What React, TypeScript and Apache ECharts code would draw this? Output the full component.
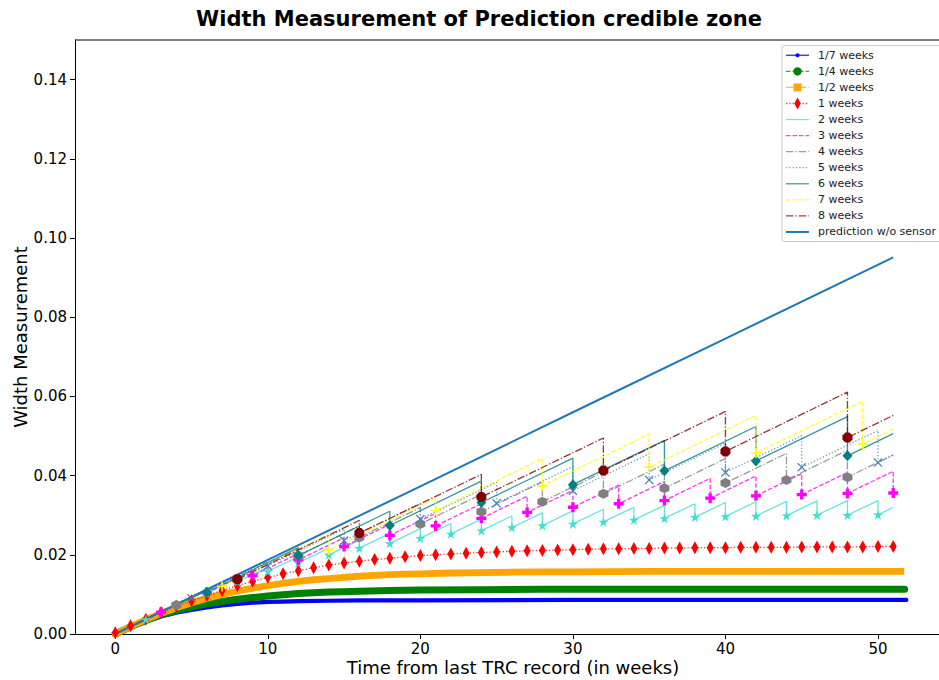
import React, { useEffect, useRef } from "react";
import * as echarts from "echarts";

const chartTitle = "Width Measurement of Prediction credible zone";
const xAxisTitle = "Time from last TRC record (in weeks)";
const yAxisTitle = "Width Measurement";
const xTicks = [0, 10, 20, 30, 40, 50];
const yTicks = [0, 0.02, 0.04, 0.06, 0.08, 0.1, 0.12, 0.14];

const legendLabels = [
  "1/7 weeks", "1/4 weeks", "1/2 weeks", "1 weeks", "2 weeks", "3 weeks",
  "4 weeks", "5 weeks", "6 weeks", "7 weeks", "8 weeks", "prediction w/o sensor",
];

const lastWeek = 51;

// prediction without sensor
const predictionWeeks = [0, 10, 20, 30, 40, 51];
const predictionValues = [0, 0.0187, 0.0373, 0.056, 0.0746, 0.0951];

// 1/7 weeks (dense daily markers -> band)
const seventhWeeks = [0, 1, 2, 3, 4, 5, 6, 7, 8, 9, 10, 11, 12, 14, 16, 20, 30, 40, 51.86];
const seventhValues = [0, 0.0017, 0.0032, 0.0044, 0.0054, 0.0061, 0.0067, 0.0072, 0.0076, 0.0079, 0.0081, 0.0082, 0.0083, 0.0084, 0.0085, 0.0085, 0.0086, 0.0086, 0.0086];

// 1/4 weeks
const quarterWeeks = [0, 1, 2, 3, 4, 5, 6, 7, 8, 9, 10, 11, 12, 13, 14, 15, 16, 18, 20, 24, 28, 35, 45, 51.75];
const quarterValues = [0, 0.0018, 0.0034, 0.0048, 0.0059, 0.0068, 0.0076, 0.0082, 0.0088, 0.0092, 0.0096, 0.0099, 0.0102, 0.0104, 0.0106, 0.0107, 0.0108, 0.011, 0.0111, 0.0112, 0.0113, 0.0113, 0.0113, 0.0113];

// 1/2 weeks
const halfWeeks = [0, 1, 2, 3, 4, 5, 6, 7, 8, 9, 10, 11, 12, 13, 14, 15, 16, 17, 18, 19, 20, 22, 24, 26, 28, 30, 35, 40, 45, 51.5];
const halfValues = [0, 0.0019, 0.0036, 0.0052, 0.0066, 0.0079, 0.009, 0.01, 0.0108, 0.0116, 0.0122, 0.0128, 0.0133, 0.0137, 0.014, 0.0143, 0.0146, 0.0148, 0.015, 0.0151, 0.0152, 0.0154, 0.0155, 0.0156, 0.0157, 0.0157, 0.0158, 0.0158, 0.0158, 0.0158];

// 1 week (one value per week, weeks 0..51)
const oneWeekValues = [
  0.0003, 0.0021, 0.0037, 0.0054, 0.007, 0.0084, 0.0097, 0.011, 0.0122, 0.0133,
  0.0143, 0.0152, 0.016, 0.0167, 0.0174, 0.0179, 0.0184, 0.0188, 0.0191, 0.0195,
  0.0198, 0.02, 0.0202, 0.0204, 0.0206, 0.0207, 0.0209, 0.021, 0.0211, 0.0212,
  0.0213, 0.0214, 0.0215, 0.0215, 0.0216, 0.0216, 0.0217, 0.0217, 0.0218, 0.0218,
  0.0218, 0.0219, 0.0219, 0.0219, 0.0219, 0.022, 0.022, 0.022, 0.022, 0.022,
  0.0221, 0.0221,
];

// sawtooth series: value just before each update (peak) and just after (min)
const saw2Peaks = [0.0037, 0.0074, 0.0109, 0.014, 0.0169, 0.0195, 0.0217, 0.0237, 0.0254, 0.0266, 0.0279, 0.029, 0.0298, 0.0306, 0.0311, 0.0315, 0.032, 0.0325, 0.0329, 0.0332, 0.0334, 0.0335, 0.0336, 0.0337, 0.0337];
const saw2Mins = [0.0037, 0.0072, 0.0103, 0.0132, 0.0158, 0.018, 0.02, 0.0217, 0.0229, 0.0242, 0.0253, 0.0261, 0.0269, 0.0274, 0.0278, 0.0283, 0.0288, 0.0292, 0.0295, 0.0297, 0.0298, 0.0299, 0.03, 0.03, 0.0301];
const saw2End = 0.032;

const saw3Peaks = [0.0056, 0.0111, 0.016, 0.0203, 0.0243, 0.0277, 0.0305, 0.0329, 0.0348, 0.0363, 0.0376, 0.0385, 0.0393, 0.0399, 0.0405, 0.0408, 0.0411];
const saw3Mins = [0.0055, 0.0104, 0.0147, 0.0187, 0.0221, 0.0249, 0.0273, 0.0292, 0.0307, 0.032, 0.0329, 0.0337, 0.0343, 0.0349, 0.0352, 0.0355, 0.0356];
const saw3End = 0.0356;

const saw4Peaks = [0.0075, 0.0148, 0.0215, 0.0273, 0.0319, 0.0353, 0.0384, 0.0409, 0.0429, 0.0443, 0.0456, 0.0464];
const saw4Mins = [0.0073, 0.014, 0.0198, 0.0244, 0.0278, 0.0309, 0.0334, 0.0354, 0.0368, 0.0381, 0.0389, 0.0396];
const saw4End = 0.0452;

const saw5Peaks = [0.0093, 0.0183, 0.0265, 0.0329, 0.0383, 0.0423, 0.0455, 0.0482, 0.0501, 0.0514];
const saw5Mins = [0.009, 0.0172, 0.0236, 0.029, 0.033, 0.0362, 0.0389, 0.0408, 0.0421, 0.0433];
const saw5End = 0.0452;

const saw6Peaks = [0.0112, 0.0218, 0.031, 0.0386, 0.0444, 0.0489, 0.0524, 0.0549];
const saw6Mins = [0.0106, 0.0198, 0.0274, 0.0332, 0.0377, 0.0412, 0.0437, 0.045];
const saw6End = 0.0506;

const saw7Peaks = [0.0131, 0.0251, 0.0343, 0.0443, 0.0505, 0.0552, 0.0588];
const saw7Mins = [0.012, 0.0212, 0.0312, 0.0374, 0.0421, 0.0457, 0.048];
const saw7End = 0.0517;

const saw8Peaks = [0.0149, 0.0287, 0.0403, 0.0495, 0.0562, 0.0611];
const saw8Mins = [0.0138, 0.0255, 0.0346, 0.0413, 0.0461, 0.0496];
const saw8End = 0.0552;

const FONT = "DejaVu Sans";

const starPath = "path://M0,-10L2.245,-3.09L9.511,-3.09L3.633,1.18L5.878,8.09L0,3.82L-5.878,8.09L-3.633,1.18L-9.511,-3.09L-2.245,-3.09Z";
const plusFilledPath = "path://M-1,-3L1,-3L1,-1L3,-1L3,1L1,1L1,3L-1,3L-1,1L-3,1L-3,-1L-1,-1Z";
const hexPath = "path://M0,-10L8.66,-5L8.66,5L0,10L-8.66,5L-8.66,-5Z";
const xPath = "path://M-5,-4L-4,-5L0,-1L4,-5L5,-4L1,0L5,4L4,5L0,1L-4,5L-5,4L-1,0Z";
const plusThinPath = "path://M-0.8,-5L0.8,-5L0.8,-0.8L5,-0.8L5,0.8L0.8,0.8L0.8,5L-0.8,5L-0.8,0.8L-5,0.8L-5,-0.8L-0.8,-0.8Z";
const octPath = "path://M-4.14,-10L4.14,-10L10,-4.14L10,4.14L4.14,10L-4.14,10L-10,4.14L-10,-4.14Z";

const DASHED = [4.5, 2];
const DASHDOT = [7.5, 2, 1.3, 2];
const DOTTED = [1.3, 2];

function pairs(xs: number[], ys: number[]) {
  return xs.map((x, i) => [x, ys[i]]);
}

function sawData(period: number, peaks: number[], mins: number[], endValue: number) {
  const data: any[] = [{ value: [0, 0], symbol: "none" }];
  peaks.forEach((p, i) => {
    const t = period * (i + 1);
    data.push({ value: [t, p], symbol: "none" });
    data.push({ value: [t, mins[i]] });
  });
  if (period * peaks.length < lastWeek) {
    data.push({ value: [lastWeek, endValue], symbol: "none" });
  }
  return data;
}

function sawSeries(name: string, data: any[], color: string, dash: any, symbol: string, size: any) {
  return {
    name,
    type: "line",
    data,
    symbol,
    symbolSize: size,
    showSymbol: true,
    lineStyle: { color, width: 1.3, type: dash, opacity: 0.8 },
    itemStyle: { color, borderWidth: 0 },
    silent: true,
    emphasis: { disabled: true },
  };
}

// legend styles
const legendStyles = [
  { color: "#0000ff", dash: null, width: 1.5, marker: "dot" },
  { color: "#008000", dash: DASHED, width: 1.3, marker: "circle" },
  { color: "#ffa500", dash: DASHDOT, width: 1.3, marker: "square" },
  { color: "#ff0000", dash: DOTTED, width: 1.3, marker: "diamond" },
  { color: "#40e0d0", dash: null, width: 1.3, marker: "" },
  { color: "#ff00ff", dash: DASHED, width: 1.3, marker: "" },
  { color: "#808080", dash: DASHDOT, width: 1.3, marker: "" },
  { color: "#4682b4", dash: DOTTED, width: 1.3, marker: "" },
  { color: "#008080", dash: null, width: 1.3, marker: "" },
  { color: "#ffff00", dash: DASHED, width: 1.3, marker: "" },
  { color: "#800000", dash: DASHDOT, width: 1.3, marker: "" },
  { color: "#1f77b4", dash: null, width: 2, marker: "" },
];

function buildLegend() {
  const els: any[] = [];
  els.push({
    type: "rect",
    shape: { x: 782, y: 45.5, width: 200, height: 196, r: 3 },
    style: { fill: "rgba(255,255,255,0.85)", stroke: "#cccccc", lineWidth: 1 },
    z: 100,
  });
  legendLabels.forEach((label, i) => {
    const y = 55.3 + i * 16.06;
    const st = legendStyles[i];
    els.push({
      type: "line",
      shape: { x1: 786, y1: y, x2: 809, y2: y },
      style: { stroke: st.color, lineWidth: st.width, lineDash: st.dash || undefined, opacity: i === 11 ? 1 : 0.75 },
      z: 101,
    });
    const cx = 797.5;
    if (st.marker === "dot") {
      els.push({ type: "circle", shape: { cx, cy: y, r: 2 }, style: { fill: st.color }, z: 102 });
    } else if (st.marker === "circle") {
      els.push({ type: "circle", shape: { cx, cy: y, r: 4.2 }, style: { fill: st.color }, z: 102 });
    } else if (st.marker === "square") {
      els.push({ type: "rect", shape: { x: cx - 4, y: y - 4, width: 8, height: 8 }, style: { fill: st.color }, z: 102 });
    } else if (st.marker === "diamond") {
      els.push({ type: "polygon", shape: { points: [[cx, y - 6], [cx + 3.2, y], [cx, y + 6], [cx - 3.2, y]] }, style: { fill: st.color }, z: 102 });
    }
    els.push({
      type: "text",
      x: 818,
      y,
      style: { text: label, fontSize: 11, fontFamily: FONT, fill: "#222", align: "left", verticalAlign: "middle" },
      z: 102,
    });
  });
  return els;
}

export default function App() {
  const ref = useRef<HTMLDivElement>(null);
  useEffect(() => {
    if (!ref.current) return;
    const chart = echarts.init(ref.current, null, { renderer: "svg" });
    const series: any[] = [
      {
        name: legendLabels[0], type: "line", data: pairs(seventhWeeks, seventhValues), symbol: "none",
        lineStyle: { color: "#0000ff", width: 4.2, cap: "round", join: "round" }, silent: true,
      },
      {
        name: legendLabels[1], type: "line", data: pairs(quarterWeeks, quarterValues), symbol: "none",
        lineStyle: { color: "#008000", width: 7, cap: "round", join: "round" }, silent: true,
      },
      {
        name: legendLabels[2], type: "line", data: pairs(halfWeeks, halfValues), symbol: "none",
        lineStyle: { color: "#ffa500", width: 6.8, cap: "square", join: "miter" }, silent: true,
      },
      {
        name: legendLabels[3], type: "line", data: oneWeekValues.map((v, i) => [i, v]),
        symbol: "diamond", symbolSize: [7, 13], showSymbol: true,
        lineStyle: { color: "#ff0000", width: 1.3, type: DOTTED, opacity: 0.8 },
        itemStyle: { color: "#ff0000", borderWidth: 0 }, silent: true,
      },
      sawSeries(legendLabels[4], sawData(2, saw2Peaks, saw2Mins, saw2End), "#40e0d0", "solid", starPath, 10),
      sawSeries(legendLabels[5], sawData(3, saw3Peaks, saw3Mins, saw3End), "#ff00ff", DASHED, plusFilledPath, 10),
      sawSeries(legendLabels[6], sawData(4, saw4Peaks, saw4Mins, saw4End), "#808080", DASHDOT, hexPath, 10),
      sawSeries(legendLabels[7], sawData(5, saw5Peaks, saw5Mins, saw5End), "#4682b4", DOTTED, xPath, 9),
      sawSeries(legendLabels[8], sawData(6, saw6Peaks, saw6Mins, saw6End), "#008080", "solid", "diamond", [10, 11]),
      sawSeries(legendLabels[9], sawData(7, saw7Peaks, saw7Mins, saw7End), "#ffff00", DASHED, plusThinPath, 10),
      sawSeries(legendLabels[10], sawData(8, saw8Peaks, saw8Mins, saw8End), "#800000", DASHDOT, octPath, 10),
      {
        name: legendLabels[11], type: "line", data: pairs(predictionWeeks, predictionValues), symbol: "none",
        lineStyle: { color: "#1f77b4", width: 2 }, silent: true,
      },
    ];
    const option: any = {
      animation: false,
      backgroundColor: "#ffffff",
      grid: { left: 75, right: 0, top: 40, bottom: 46, containLabel: false, outerBoundsMode: "none" },
      xAxis: {
        type: "value",
        min: -2.64,
        max: 54,
        axisLine: { show: true, onZero: false, lineStyle: { color: "#000", width: 1 } },
        axisTick: { show: true, length: 5, customValues: xTicks, lineStyle: { color: "#000" } },
        axisLabel: { customValues: xTicks, fontSize: 15, lineHeight: 15, fontFamily: FONT, color: "#000", margin: 7 },
        splitLine: { show: false },
      },
      yAxis: {
        type: "value",
        min: 0,
        max: 0.15,
        axisLine: { show: true, onZero: false, lineStyle: { color: "#000", width: 1 } },
        axisTick: { show: true, length: 5, customValues: yTicks, lineStyle: { color: "#000" } },
        axisLabel: {
          customValues: yTicks, fontSize: 15, fontFamily: FONT, color: "#000", margin: 8,
          formatter: (v: number) => v.toFixed(2),
        },
        splitLine: { show: false },
      },
      series,
      graphic: [
        { type: "line", shape: { x1: 75, y1: 40, x2: 939, y2: 40 }, style: { stroke: "#000", lineWidth: 1 }, z: 50 },
        {
          type: "text", x: 479, y: 19,
          style: { text: chartTitle, fontSize: 21, fontWeight: "bold", fontFamily: FONT, fill: "#000", align: "center", verticalAlign: "middle" },
        },
        {
          type: "text", x: 513, y: 667,
          style: { text: xAxisTitle, fontSize: 18, lineHeight: 18, fontFamily: FONT, fill: "#000", align: "center", verticalAlign: "middle" },
        },
        {
          type: "text", x: 20, y: 337, rotation: Math.PI / 2,
          style: { text: yAxisTitle, fontSize: 18, fontFamily: FONT, fill: "#000", align: "center", verticalAlign: "middle" },
        },
        ...buildLegend(),
      ],
    };
    chart.setOption(option);
    return () => chart.dispose();
  }, []);
  return <div ref={ref} style={{ position: "fixed", left: 0, top: 0, width: 939, height: 680, background: "#fff" }} />;
}
